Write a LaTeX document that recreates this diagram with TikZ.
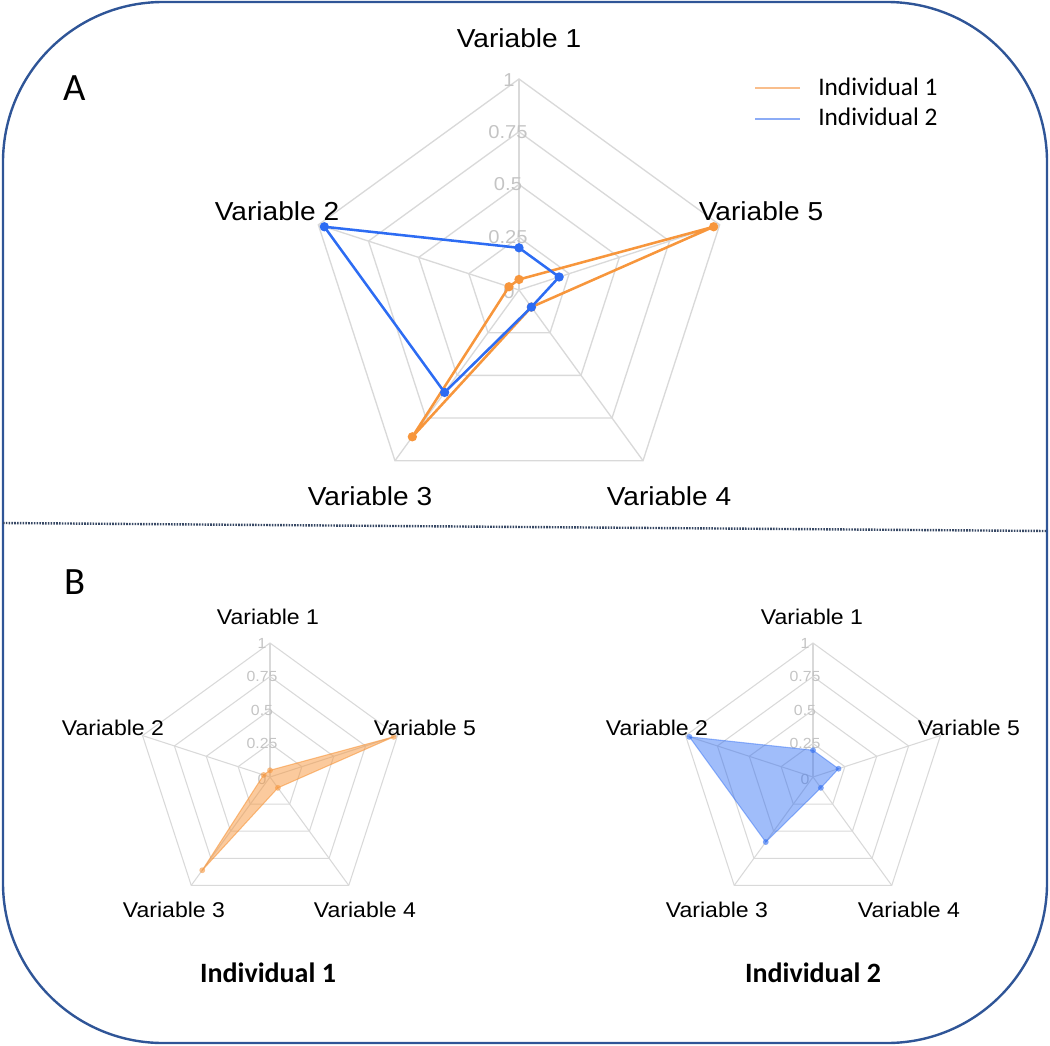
\documentclass[tikz,border=0pt]{standalone}
\usepackage{fontspec}
\setmainfont{Liberation Sans}
\newfontfamily\chartfont[FakeStretch=1.08]{Liberation Sans}
\newfontfamily\calfont{Carlito}
\usetikzlibrary{calc}
\definecolor{frameblue}{RGB}{47,85,151}
\definecolor{gridgray}{RGB}{217,217,217}
\definecolor{scalegray}{RGB}{196,196,196}
\definecolor{orangeC}{RGB}{247,150,60}
\definecolor{blueC}{RGB}{45,108,243}
\definecolor{orangeL}{RGB}{249,190,140}
\definecolor{blueL}{RGB}{140,172,246}
\definecolor{sepgray}{RGB}{55,72,100}
\begin{document}
\begin{tikzpicture}[x=0.75pt,y=-0.75pt,
  gridline/.style={gridgray,line width=1pt},
  gridthin/.style={gridgray,line width=0.8pt},
  toplab/.style={inner sep=0pt,font=\chartfont\fontsize{19.5}{22}\selectfont},
  smalllab/.style={inner sep=0pt,font=\chartfont\fontsize{16}{19}\selectfont},
  scaletop/.style={inner sep=0pt,text=scalegray,font=\chartfont\fontsize{14}{16}\selectfont},
  scalesmall/.style={inner sep=0pt,text=scalegray,font=\chartfont\fontsize{11}{13}\selectfont},
  panellab/.style={inner sep=0pt,font=\calfont\fontsize{29}{32}\selectfont},
  legtext/.style={inner sep=0pt,anchor=west,font=\calfont\fontsize{19}{22}\selectfont},
  indlab/.style={inner sep=0pt,font=\calfont\bfseries\fontsize{21}{24}\selectfont},
  orangeline/.style={orangeC,line width=1.9pt,line join=round},
  blueline/.style={blueC,line width=1.9pt,line join=round},
  ofill/.style={fill=orangeC,fill opacity=0.5,draw=orangeC,draw opacity=0.6,line width=0.8pt,line join=round},
  bfill/.style={fill=blueC,fill opacity=0.45,draw=blueC,draw opacity=0.45,line width=0.8pt,line join=round}
]
\useasboundingbox (0,0) rectangle (1050,1046);
% frame
\draw[frameblue,line width=1.8pt,rounded corners=120pt] (3,2) rectangle (1047,1043);
% separator
\coordinate (sepL) at (3,523);
\coordinate (sepR) at (1047,531);
\draw[sepgray,line width=1.8pt,dash pattern=on 1.2pt off 0.9pt] (sepL) -- (sepR);

% panel labels
\node[panellab] (labA) at (75,88) {A};
\node[panellab] (labB) at (75,582) {B};

% ================= top chart =================
\begin{scope}[shift={(519,290)}]
  \def\R{211}
  \foreach \f in {0.25,0.5,0.75,1}
    \draw[gridline] (-90:\f*\R) -- (198:\f*\R) -- (126:\f*\R) -- (54:\f*\R) -- (-18:\f*\R) -- cycle;
  \foreach \a in {-90,198,126,54,-18}
    \draw[gridline] (0,0) -- (\a:\R);
  \node[scaletop] (ts0) at (-10,2) {0};
  \node[scaletop] (ts1) at (-11,-52.75) {0.25};
  \node[scaletop] (ts2) at (-11,-105.5) {0.5};
  \node[scaletop] (ts3) at (-11,-158.25) {0.75};
  \node[scaletop] (ts4) at (-10,-210) {1};
  % individual 1
  \draw[orangeline] (-90:0.05*\R) coordinate (oa1) -- (198:0.05*\R) coordinate (oa2)
     -- (126:0.86*\R) coordinate (oa3) -- (54:0.1*\R) coordinate (oa4)
     -- (-18:0.97*\R) coordinate (oa5) -- cycle;
  \foreach \p in {oa1,oa2,oa3,oa4,oa5} \fill[orangeC] (\p) circle (3.5pt);
  % individual 2
  \draw[blueline] (-90:0.2*\R) coordinate (ba1) -- (198:0.97*\R) coordinate (ba2)
     -- (126:0.6*\R) coordinate (ba3) -- (54:0.1*\R) coordinate (ba4)
     -- (-18:0.2*\R) coordinate (ba5) -- cycle;
  \foreach \p in {ba1,ba2,ba3,ba4,ba5} \fill[blueC] (\p) circle (3.5pt);
\end{scope}
\node[toplab] (tv1) at (519,38) {Variable 1};
\node[toplab] (tv2) at (277,211) {Variable 2};
\node[toplab] (tv5) at (761,211) {Variable 5};
\node[toplab] (tv3) at (370,496) {Variable 3};
\node[toplab] (tv4) at (669,496) {Variable 4};

% legend
\coordinate (lo1) at (755,88);
\coordinate (lo2) at (800,88);
\coordinate (lb1) at (755,119);
\coordinate (lb2) at (800,119);
\draw[orangeL,line width=1.6pt] (lo1) -- (lo2);
\draw[blueL,line width=1.6pt] (lb1) -- (lb2);
\node[legtext] (leg1) at (818,87) {Individual 1};
\node[legtext] (leg2) at (818,117) {Individual 2};

% ================= bottom left chart =================
\begin{scope}[shift={(270,777)}]
  \def\R{134}
  \foreach \f in {0.25,0.5,0.75,1}
    \draw[gridthin] (-90:\f*\R) -- (198:\f*\R) -- (126:\f*\R) -- (54:\f*\R) -- (-18:\f*\R) -- cycle;
  \foreach \a in {-90,198,126,54,-18}
    \draw[gridthin] (0,0) -- (\a:\R);
  \node[scalesmall] (ls0) at (-8,2) {0};
  \node[scalesmall] (ls1) at (-8,-33.5) {0.25};
  \node[scalesmall] (ls2) at (-8,-67) {0.5};
  \node[scalesmall] (ls3) at (-8,-100.5) {0.75};
  \node[scalesmall] (ls4) at (-8,-134) {1};
  \draw[ofill] (-90:0.05*\R) coordinate (ob1) -- (198:0.05*\R) coordinate (ob2)
     -- (126:0.86*\R) coordinate (ob3) -- (54:0.1*\R) coordinate (ob4)
     -- (-18:0.97*\R) coordinate (ob5) -- cycle;
  \foreach \p in {ob1,ob2,ob3,ob4,ob5} \fill[orangeC,opacity=0.6] (\p) circle (2.2pt);
\end{scope}
\node[smalllab] (lv1) at (268,617) {Variable 1};
\node[smalllab] (lv2) at (113,728) {Variable 2};
\node[smalllab] (lv5) at (425,728) {Variable 5};
\node[smalllab] (lv3) at (174,910) {Variable 3};
\node[smalllab] (lv4) at (365,910) {Variable 4};
\node[indlab] (ind1) at (268,973) {Individual 1};

% ================= bottom right chart =================
\begin{scope}[shift={(813,777)}]
  \def\R{134}
  \foreach \f in {0.25,0.5,0.75,1}
    \draw[gridthin] (-90:\f*\R) -- (198:\f*\R) -- (126:\f*\R) -- (54:\f*\R) -- (-18:\f*\R) -- cycle;
  \foreach \a in {-90,198,126,54,-18}
    \draw[gridthin] (0,0) -- (\a:\R);
  \node[scalesmall] (rs0) at (-8,2) {0};
  \node[scalesmall] (rs1) at (-8,-33.5) {0.25};
  \node[scalesmall] (rs2) at (-8,-67) {0.5};
  \node[scalesmall] (rs3) at (-8,-100.5) {0.75};
  \node[scalesmall] (rs4) at (-8,-134) {1};
  \draw[bfill] (-90:0.2*\R) coordinate (bb1) -- (198:0.97*\R) coordinate (bb2)
     -- (126:0.6*\R) coordinate (bb3) -- (54:0.1*\R) coordinate (bb4)
     -- (-18:0.2*\R) coordinate (bb5) -- cycle;
  \foreach \p in {bb1,bb2,bb3,bb4,bb5} \fill[blueC,opacity=0.6] (\p) circle (2.2pt);
\end{scope}
\node[smalllab] (rv1) at (812,617) {Variable 1};
\node[smalllab] (rv2) at (657,728) {Variable 2};
\node[smalllab] (rv5) at (969,728) {Variable 5};
\node[smalllab] (rv3) at (717,910) {Variable 3};
\node[smalllab] (rv4) at (909,910) {Variable 4};
\node[indlab] (ind2) at (813,973) {Individual 2};
\end{tikzpicture}
\end{document}
